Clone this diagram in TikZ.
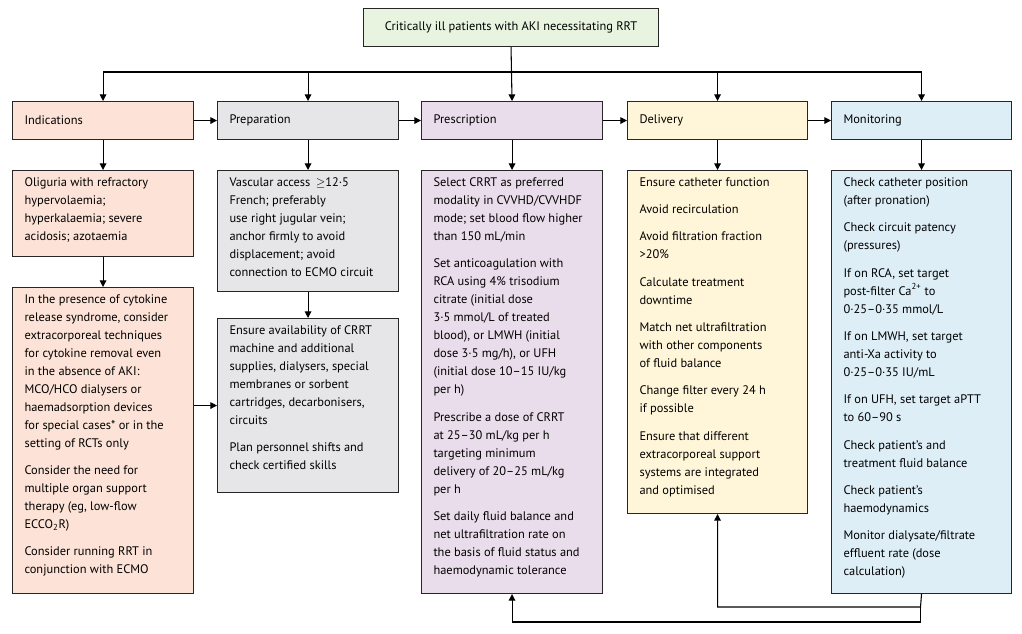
\documentclass[tikz,border=0pt]{standalone}
\usepackage{fontspec}
\setmainfont{PT Sans}
\usetikzlibrary{positioning,arrows.meta}
\definecolor{topc}{HTML}{E8F3E0}
\definecolor{indc}{HTML}{FDE3D7}
\definecolor{prec}{HTML}{E6E6E8}
\definecolor{presc}{HTML}{EADDEB}
\definecolor{delc}{HTML}{FFF5D8}
\definecolor{monc}{HTML}{DDEEF7}
\tikzset{every picture/.style={line width=0.8pt}}
\tikzset{
  box/.style={draw=black!85, inner sep=0pt, anchor=north west},
  txt/.style={anchor=north west, align=left, inner sep=0pt, font=\fontsize{9.3}{13.5}\selectfont},
  arr/.style={-{Triangle[length=5pt,width=5pt]}}
}
% box: name, x, y, width, height, colour
\newcommand{\pbox}[6]{\node[box, fill=#6, minimum width=#4*0.75pt, minimum height=#5*0.75pt] (#1) at (#2,#3) {};}
\newcommand{\gap}{\\[7pt]}

\begin{document}
\begin{tikzpicture}[x=0.75pt,y=-0.75pt]
\useasboundingbox (0,0) rectangle (1022,634);
% top
\pbox{top}{363}{8}{295}{38}{topc}
\node[txt] (ttop) at (top.center) [anchor=center] {Critically ill patients with AKI necessitating RRT};
% headers
\pbox{h1}{12}{101}{181}{38}{indc}
\pbox{h2}{217}{101}{181}{38}{prec}
\pbox{h3}{421}{101}{181}{38}{presc}
\pbox{h4}{627}{101}{180}{38}{delc}
\pbox{h5}{831}{101}{180}{38}{monc}
\foreach \Name/\Label in {h1/Indications, h2/Preparation, h3/Prescription, h4/Delivery, h5/Monitoring}
  \node[txt, anchor=west] (t\Name) at ([xshift=9pt]\Name.west) {\Label};
% column boxes
\pbox{a1}{12}{170}{181}{86}{indc}
\pbox{a2}{12}{287}{181}{306}{indc}
\pbox{b1}{217}{170}{181}{121}{prec}
\pbox{b2}{217}{318}{181}{174}{prec}
\pbox{c1}{421}{170}{181}{423}{presc}
\pbox{d1}{627}{170}{180}{343}{delc}
\pbox{e1}{831}{170}{180}{423}{monc}
%
\node[txt] (ta1) at (24,177) {Oliguria with refractory\\hypervolaemia;\\hyperkalaemia; severe\\acidosis; azotaemia};
\node[txt] (ta2) at (24,294) {In the presence of cytokine\\release syndrome, consider\\extracorporeal techniques\\for cytokine removal even\\in the absence of AKI:\\MCO/HCO dialysers or\\haemadsorption devices\\for special cases* or in the\\setting of RCTs only\gap Consider the need for\\multiple organ support\\therapy (eg, low-flow\\ECCO\textsubscript{2}R)\gap Consider running RRT in\\conjunction with ECMO};
\node[txt] (tb1) at (229,177) {Vascular access \,$\geq$12·5\\French; preferably\\use right jugular vein;\\anchor firmly to avoid\\displacement; avoid\\connection to ECMO circuit};
\node[txt] (tb2) at (229,325) {Ensure availability of CRRT\\machine and additional\\supplies, dialysers, special\\membranes or sorbent\\cartridges, decarbonisers,\\circuits\gap Plan personnel shifts and\\check certified skills};
\node[txt] (tc1) at (433,177) {Select CRRT as preferred\\modality in CVVHD/CVVHDF\\mode; set blood flow higher\\than 150 mL/min\gap Set anticoagulation with\\RCA using 4\% trisodium\\citrate (initial dose\\3·5 mmol/L of treated\\blood), or LMWH (initial\\dose 3·5 mg/h), or UFH\\(initial dose 10–15 IU/kg\\per h)\gap Prescribe a dose of CRRT\\at 25–30 mL/kg per h\\targeting minimum\\delivery of 20–25 mL/kg\\per h\gap Set daily fluid balance and\\net ultrafiltration rate on\\the basis of fluid status and\\haemodynamic tolerance};
\node[txt] (td1) at (639,177) {Ensure catheter function\gap Avoid recirculation\gap Avoid filtration fraction\\>20\%\gap Calculate treatment\\downtime\gap Match net ultrafiltration\\with other components\\of fluid balance\gap Change filter every 24 h\\if possible\gap Ensure that different\\extracorporeal support\\systems are integrated\\and optimised};
\node[txt] (te1) at (843,177) {Check catheter position\\(after pronation)\gap Check circuit patency\\(pressures)\gap If on RCA, set target\\post-filter Ca\textsuperscript{2+} to\\0·25–0·35 mmol/L\gap If on LMWH, set target\\anti-Xa activity to\\0·25–0·35 IU/mL\gap If on UFH, set target aPTT\\to 60–90 s\gap Check patient’s and\\treatment fluid balance\gap Check patient’s\\haemodynamics\gap Monitor dialysate/filtrate\\effluent rate (dose\\calculation)};
% connectors
\coordinate (split) at (511.5,72);
\draw[arr] (top.south) -- (h3.north);
\draw (h1.north |- split) -- (h5.north |- split);
\foreach \Target in {h1, h2, h4, h5}
  \draw[arr] (\Target.north |- split) -- (\Target.north);
\foreach \Source/\Target in {h1/h2, h2/h3, h3/h4, h4/h5}
  \draw[arr] (\Source.east) -- (\Target.west);
\foreach \Source/\Target in {h1/a1, a1/a2, h2/b1, b1/b2, h3/c1, h4/d1, h5/e1}
  \draw[arr] (\Source.south) -- (\Target.north);
\draw[arr] (b2.west -| a2.east) -- (b2.west);
%
\coordinate (back1) at (920.5,607);
\coordinate (back2) at (920.5,622);
\draw[arr] (e1.south) -- (back1) -| (d1.south);
\draw[arr] (back1) -- (back2) -| (c1.south);
\end{tikzpicture}
\end{document}
